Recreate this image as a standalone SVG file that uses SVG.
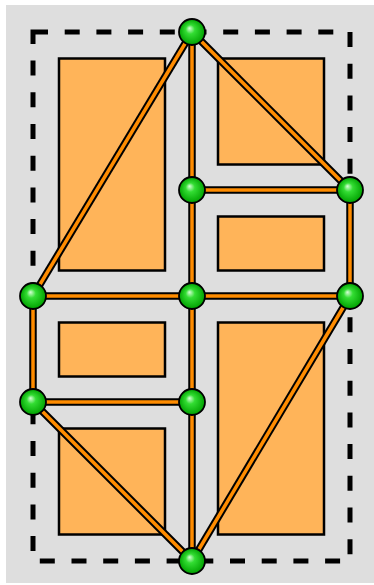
<svg xmlns="http://www.w3.org/2000/svg" width="374" height="585" viewBox="0 0 374 585">
<defs>
<radialGradient id="g" cx="0.5" cy="0.5" r="0.5" fx="0.4" fy="0.35">
<stop offset="0" stop-color="#d8ffd8"/>
<stop offset="0.35" stop-color="#33dd33"/>
<stop offset="1" stop-color="#00a000"/>
</radialGradient>
</defs>
<style>
.bg{fill:#dedede}
.border{fill:none;stroke:#000;stroke-width:5;stroke-dasharray:15 16.7}
.blk{fill:#ffb459;stroke:#000;stroke-width:2.5}
.eo{stroke:#000;stroke-width:7.5;fill:none}
.ei{stroke:#ff8c00;stroke-width:3.5;fill:none}
.n{fill:url(#g);stroke:#000;stroke-width:1.8}
</style>
<rect class="bg" x="6" y="5" width="368" height="578"/>
<rect class="border" x="33" y="32" width="317" height="529"/>
<g id="blocks">
<rect class="blk" x="59" y="58.5" width="106" height="212"/>
<rect class="blk" x="218" y="58.5" width="106" height="106"/>
<rect class="blk" x="218" y="216.5" width="106" height="54"/>
<rect class="blk" x="59" y="322.5" width="106" height="54"/>
<rect class="blk" x="218" y="322.5" width="106" height="212"/>
<rect class="blk" x="59" y="428.5" width="106" height="106"/>
</g>
<g id="connectors">
<g class="eo">
<line x1="192" y1="32" x2="33" y2="296"/>
<line x1="192" y1="32" x2="192" y2="190"/>
<line x1="192" y1="32" x2="350" y2="190"/>
<line x1="192" y1="190" x2="350" y2="190"/>
<line x1="192" y1="190" x2="192" y2="296"/>
<line x1="350" y1="190" x2="350" y2="296"/>
<line x1="33" y1="296" x2="192" y2="296"/>
<line x1="192" y1="296" x2="350" y2="296"/>
<line x1="33" y1="296" x2="33" y2="402"/>
<line x1="192" y1="296" x2="192" y2="402"/>
<line x1="33" y1="402" x2="192" y2="402"/>
<line x1="33" y1="402" x2="192" y2="561"/>
<line x1="192" y1="402" x2="192" y2="561"/>
<line x1="350" y1="296" x2="192" y2="561"/>
</g>
<g class="ei">
<line x1="192" y1="32" x2="33" y2="296"/>
<line x1="192" y1="32" x2="192" y2="190"/>
<line x1="192" y1="32" x2="350" y2="190"/>
<line x1="192" y1="190" x2="350" y2="190"/>
<line x1="192" y1="190" x2="192" y2="296"/>
<line x1="350" y1="190" x2="350" y2="296"/>
<line x1="33" y1="296" x2="192" y2="296"/>
<line x1="192" y1="296" x2="350" y2="296"/>
<line x1="33" y1="296" x2="33" y2="402"/>
<line x1="192" y1="296" x2="192" y2="402"/>
<line x1="33" y1="402" x2="192" y2="402"/>
<line x1="33" y1="402" x2="192" y2="561"/>
<line x1="192" y1="402" x2="192" y2="561"/>
<line x1="350" y1="296" x2="192" y2="561"/>
</g>
</g>
<g id="n1"><circle class="n" cx="192" cy="32" r="13"/></g>
<g id="n2"><circle class="n" cx="192" cy="190" r="13"/></g>
<g id="n3"><circle class="n" cx="350" cy="190" r="13"/></g>
<g id="n4"><circle class="n" cx="33" cy="296" r="13"/></g>
<g id="n5"><circle class="n" cx="192" cy="296" r="13"/></g>
<g id="n6"><circle class="n" cx="350" cy="296" r="13"/></g>
<g id="n7"><circle class="n" cx="33" cy="402" r="13"/></g>
<g id="n8"><circle class="n" cx="192" cy="402" r="13"/></g>
<g id="n9"><circle class="n" cx="192" cy="561" r="13"/></g>
</svg>
